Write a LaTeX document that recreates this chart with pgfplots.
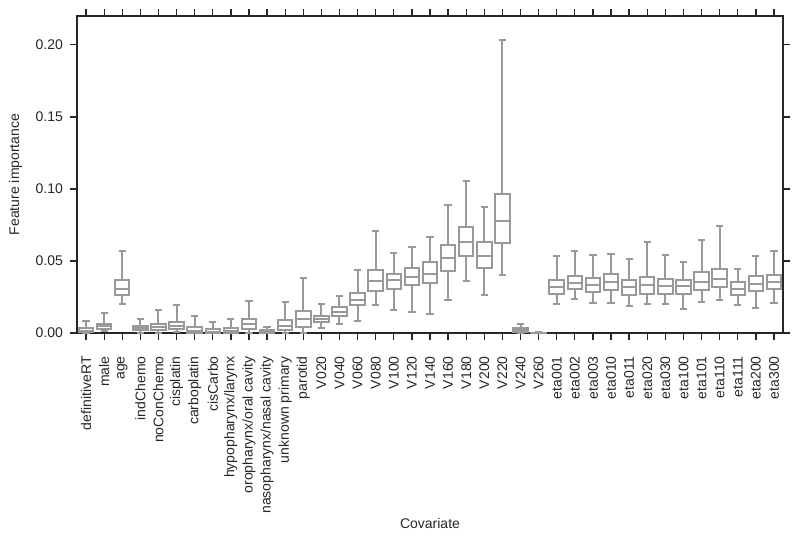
\documentclass[border=0pt]{standalone}
\usepackage{pgfplots}
\pgfplotsset{compat=1.18}
\usepgfplotslibrary{statistics}
\usepackage{fontspec}
\setmainfont{Liberation Sans}
\definecolor{boxgray}{RGB}{153,153,153}
\definecolor{axgray}{RGB}{38,38,38}
\begin{document}
\begin{tikzpicture}
\begin{axis}[
scale only axis,
width=353pt, height=158.5pt,
xmin=-0.5, xmax=38.5,
ymin=0, ymax=0.22,
font=\fontsize{7}{8.4}\selectfont,
axis line style={axgray, line width=0.65pt},
every tick/.style={axgray, line width=0.65pt},
major tick length=3.5pt,
tick align=outside,
xtick={0,...,38},
xticklabels={definitiveRT,male,age,indChemo,noConChemo,cisplatin,carboplatin,cisCarbo,hypopharynx/larynx,oropharynx/oral cavity,nasopharynx/nasal cavity,unknown primary,parotid,V020,V040,V060,V080,V100,V120,V140,V160,V180,V200,V220,V240,V260,eta001,eta002,eta003,eta010,eta011,eta020,eta030,eta100,eta101,eta110,eta111,eta200,eta300},
xticklabel style={rotate=90, anchor=east, inner xsep=8pt, text=axgray},
ytick={0,0.05,0.1,0.15,0.2},
yticklabel style={text=axgray, /pgf/number format/.cd, fixed, fixed zerofill, precision=2, assume math mode=true},
xlabel={Covariate}, ylabel={Feature importance},
label style={text=axgray},
xlabel style={yshift=9pt},
boxplot/draw direction=y,
boxplot/box extend=0.8,
boxplot/whisker extend=0.4,
every axis plot/.append style={boxgray, line width=1pt, solid},
]
\addplot[boxplot prepared={draw position=0, lower whisker=0, lower quartile=0.0005, median=0.0015, upper quartile=0.0035, upper whisker=0.0085}] coordinates {};
\addplot[boxplot prepared={draw position=1, lower whisker=0.0016, lower quartile=0.003, median=0.0048, upper quartile=0.0066, upper whisker=0.0142}] coordinates {};
\addplot[boxplot prepared={draw position=2, lower whisker=0.0198, lower quartile=0.0262, median=0.0308, upper quartile=0.0366, upper whisker=0.0566}] coordinates {};
\addplot[boxplot prepared={draw position=3, lower whisker=0, lower quartile=0.0018, median=0.0037, upper quartile=0.0052, upper whisker=0.0094}] coordinates {};
\addplot[boxplot prepared={draw position=4, lower whisker=0.0003, lower quartile=0.0023, median=0.0045, upper quartile=0.0066, upper whisker=0.0163}] coordinates {};
\addplot[boxplot prepared={draw position=5, lower whisker=0.0005, lower quartile=0.003, median=0.0052, upper quartile=0.0075, upper whisker=0.0193}] coordinates {};
\addplot[boxplot prepared={draw position=6, lower whisker=0, lower quartile=0.0002, median=0.0015, upper quartile=0.0045, upper whisker=0.0115}] coordinates {};
\addplot[boxplot prepared={draw position=7, lower whisker=0, lower quartile=0.0002, median=0.001, upper quartile=0.0025, upper whisker=0.0073}] coordinates {};
\addplot[boxplot prepared={draw position=8, lower whisker=0, lower quartile=0.0002, median=0.0015, upper quartile=0.0037, upper whisker=0.0094}] coordinates {};
\addplot[boxplot prepared={draw position=9, lower whisker=0.0003, lower quartile=0.003, median=0.0066, upper quartile=0.0094, upper whisker=0.0225}] coordinates {};
\addplot[boxplot prepared={draw position=10, lower whisker=0, lower quartile=0.0001, median=0.0008, upper quartile=0.002, upper whisker=0.0043}] coordinates {};
\addplot[boxplot prepared={draw position=11, lower whisker=0, lower quartile=0.0018, median=0.0052, upper quartile=0.0087, upper whisker=0.0216}] coordinates {};
\addplot[boxplot prepared={draw position=12, lower whisker=0, lower quartile=0.0043, median=0.0094, upper quartile=0.0156, upper whisker=0.038}] coordinates {};
\addplot[boxplot prepared={draw position=13, lower whisker=0.0034, lower quartile=0.0075, median=0.0096, upper quartile=0.0117, upper whisker=0.0198}] coordinates {};
\addplot[boxplot prepared={draw position=14, lower whisker=0.0064, lower quartile=0.0117, median=0.0147, upper quartile=0.0179, upper whisker=0.026}] coordinates {};
\addplot[boxplot prepared={draw position=15, lower whisker=0.0082, lower quartile=0.0191, median=0.0228, upper quartile=0.0281, upper whisker=0.0435}] coordinates {};
\addplot[boxplot prepared={draw position=16, lower whisker=0.0191, lower quartile=0.0292, median=0.0359, upper quartile=0.0438, upper whisker=0.071}] coordinates {};
\addplot[boxplot prepared={draw position=17, lower whisker=0.0161, lower quartile=0.0306, median=0.0369, upper quartile=0.0407, upper whisker=0.0553}] coordinates {};
\addplot[boxplot prepared={draw position=18, lower whisker=0.0147, lower quartile=0.0336, median=0.0387, upper quartile=0.0452, upper whisker=0.0594}] coordinates {};
\addplot[boxplot prepared={draw position=19, lower whisker=0.0133, lower quartile=0.0345, median=0.041, upper quartile=0.049, upper whisker=0.0666}] coordinates {};
\addplot[boxplot prepared={draw position=20, lower whisker=0.023, lower quartile=0.0433, median=0.052, upper quartile=0.0611, upper whisker=0.0889}] coordinates {};
\addplot[boxplot prepared={draw position=21, lower whisker=0.0364, lower quartile=0.0537, median=0.0633, upper quartile=0.0735, upper whisker=0.1055}] coordinates {};
\addplot[boxplot prepared={draw position=22, lower whisker=0.0267, lower quartile=0.0449, median=0.0532, upper quartile=0.0631, upper whisker=0.0876}] coordinates {};
\addplot[boxplot prepared={draw position=23, lower whisker=0.0405, lower quartile=0.0622, median=0.0779, upper quartile=0.0968, upper whisker=0.2033}] coordinates {};
\addplot[boxplot prepared={draw position=24, lower whisker=0, lower quartile=0.0006, median=0.002, upper quartile=0.0037, upper whisker=0.006}] coordinates {};
\addplot[boxplot prepared={draw position=25, lower whisker=0, lower quartile=0, median=0.0001, upper quartile=0.0002, upper whisker=0.0004}] coordinates {};
\addplot[boxplot prepared={draw position=26, lower whisker=0.0198, lower quartile=0.0274, median=0.032, upper quartile=0.0371, upper whisker=0.0532}] coordinates {};
\addplot[boxplot prepared={draw position=27, lower whisker=0.0237, lower quartile=0.0302, median=0.0345, upper quartile=0.0394, upper whisker=0.0566}] coordinates {};
\addplot[boxplot prepared={draw position=28, lower whisker=0.021, lower quartile=0.0283, median=0.0331, upper quartile=0.0382, upper whisker=0.0544}] coordinates {};
\addplot[boxplot prepared={draw position=29, lower whisker=0.0207, lower quartile=0.0297, median=0.0355, upper quartile=0.041, upper whisker=0.055}] coordinates {};
\addplot[boxplot prepared={draw position=30, lower whisker=0.0186, lower quartile=0.0267, median=0.0318, upper quartile=0.0371, upper whisker=0.0516}] coordinates {};
\addplot[boxplot prepared={draw position=31, lower whisker=0.0198, lower quartile=0.0272, median=0.0331, upper quartile=0.0387, upper whisker=0.0629}] coordinates {};
\addplot[boxplot prepared={draw position=32, lower whisker=0.0203, lower quartile=0.0274, median=0.0324, upper quartile=0.0378, upper whisker=0.0544}] coordinates {};
\addplot[boxplot prepared={draw position=33, lower whisker=0.017, lower quartile=0.0272, median=0.0324, upper quartile=0.0371, upper whisker=0.0495}] coordinates {};
\addplot[boxplot prepared={draw position=34, lower whisker=0.0216, lower quartile=0.0297, median=0.0355, upper quartile=0.0424, upper whisker=0.0647}] coordinates {};
\addplot[boxplot prepared={draw position=35, lower whisker=0.0232, lower quartile=0.0318, median=0.0378, upper quartile=0.0445, upper whisker=0.0744}] coordinates {};
\addplot[boxplot prepared={draw position=36, lower whisker=0.0191, lower quartile=0.0267, median=0.0306, upper quartile=0.0352, upper whisker=0.0447}] coordinates {};
\addplot[boxplot prepared={draw position=37, lower whisker=0.0175, lower quartile=0.029, median=0.0343, upper quartile=0.0394, upper whisker=0.0532}] coordinates {};
\addplot[boxplot prepared={draw position=38, lower whisker=0.021, lower quartile=0.0302, median=0.0352, upper quartile=0.04, upper whisker=0.0566}] coordinates {};
\end{axis}
\useasboundingbox ([shift={(-38.5pt,-101.5pt)}]current axis.south west) rectangle ([shift={(8.5pt,8pt)}]current axis.north east);
\end{tikzpicture}
\end{document}
